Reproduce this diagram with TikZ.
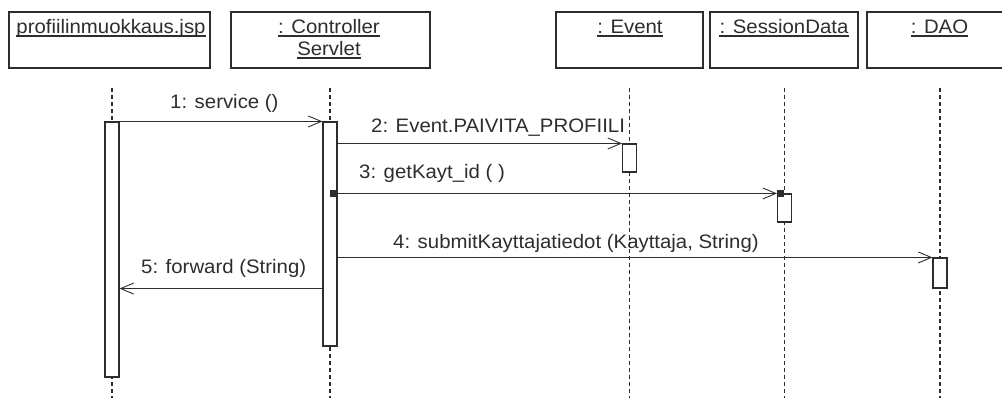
\documentclass[tikz,border=0pt]{standalone}
\usepackage{fontspec}
\setmainfont{Liberation Sans}[FakeStretch=1.045]
\usetikzlibrary{arrows.meta}
\definecolor{ink}{RGB}{45,45,45}
\begin{document}
\begin{tikzpicture}[x=1pt,y=-1pt,
  objbox/.style={draw=ink, line width=1.3pt, fill=white, inner sep=0pt},
  objname/.style={anchor=base, inner sep=0pt, text=ink, font=\fontsize{19.5}{22}\selectfont},
  uline/.style={draw=ink, line width=1.1pt},
  lifeline/.style={draw=ink, line width=1.1pt, dash pattern=on 4pt off 3pt},
  actbox/.style={draw=ink, line width=1.1pt, fill=white, inner sep=0pt, minimum width=14pt},
  msg/.style={draw=ink, line width=1.1pt, -{Straight Barb[length=13pt,width=11pt,line width=0.9pt]}},
  msglabel/.style={anchor=base west, inner sep=0pt, text=ink, font=\fontsize{19.5}{22}\selectfont},
  syncmark/.style={fill=ink, inner sep=0pt, minimum size=7pt}]
\useasboundingbox (0,0) rectangle (1002,397);
\clip (0,0) rectangle (1002,397);

% object header boxes
\node[objbox, minimum width=201pt, minimum height=56pt] (jsp) at (109.5,40) {};
\node[objbox, minimum width=199pt, minimum height=56pt] (ctl) at (330.5,40) {};
\node[objbox, minimum width=147pt, minimum height=56pt] (evt) at (629.5,40) {};
\node[objbox, minimum width=148pt, minimum height=56pt] (ses) at (784,40) {};
\node[objbox, minimum width=148pt, minimum height=56pt] (dao) at (941,40) {};

% object names, underlined
\node[objname] (tjsp) at (111,33) {profiilinmuokkaus.jsp};
\node[objname] (tctlA) at (329,33) {: Controller};
\node[objname] (tctlB) at (329,55) {Servlet};
\node[objname] (tevt) at (630,33) {: Event};
\node[objname] (tses) at (784,33) {: SessionData};
\node[objname] (tdao) at (939.5,33) {: DAO};
\foreach \t in {tjsp,tctlA,tctlB,tevt,tses,tdao}
  \draw[uline] ([yshift=-3pt]\t.base west) -- ([yshift=-3pt]\t.base east);

% lifelines
\coordinate (jspTop) at (112,88);    \coordinate (jspEnd) at (112,400);
\coordinate (ctlTop) at (330,88);    \coordinate (ctlEnd) at (330,400);
\coordinate (evtTop) at (629.5,88);  \coordinate (evtEnd) at (629.5,400);
\coordinate (sesTop) at (784.5,88);  \coordinate (sesEnd) at (784.5,400);
\coordinate (daoTop) at (940,88);    \coordinate (daoEnd) at (940,400);
\foreach \o in {jsp,ctl,evt,ses,dao}
  \draw[lifeline] (\o Top) -- (\o End);

% activation bars
\node[actbox, minimum height=255pt] (jspAct) at (112,249.5) {};
\node[actbox, minimum height=224pt] (ctlAct) at (330,234) {};
\node[actbox, minimum height=28pt] (evtAct) at (629.5,158) {};
\node[actbox, minimum height=28pt] (sesAct) at (784.5,208) {};
\node[actbox, minimum height=30pt] (daoAct) at (940,273) {};

% messages
\draw[msg] (jspAct.north east) -- (ctlAct.north west);
\draw[msg] (ctlAct.east |- evtAct.north) -- (evtAct.north west);
\draw[msg] (ctlAct.east |- sesAct.north) -- (sesAct.north west);
\draw[msg] (ctlAct.east |- daoAct.north) -- (daoAct.north west);
\draw[msg] (ctlAct.west |- daoAct.south) -- (jspAct.east |- daoAct.south);

% synchronisation marks on message 3
\node[syncmark] (mark1) at ([xshift=-4pt]ctlAct.east |- sesAct.north) {};
\node[syncmark] (mark2) at ([xshift=3.5pt]sesAct.north west) {};

% message labels
\node[msglabel] (l1) at (170,108) {1: service ()};
\node[msglabel] (l2) at (371,132) {2: Event.PAIVITA\_PROFIILI};
\node[msglabel] (l3) at (359,178) {3: getKayt\_id ( )};
\node[msglabel] (l4) at (393,248) {4: submitKayttajatiedot (Kayttaja, String)};
\node[msglabel] (l5) at (141,273) {5: forward (String)};
\end{tikzpicture}
\end{document}
